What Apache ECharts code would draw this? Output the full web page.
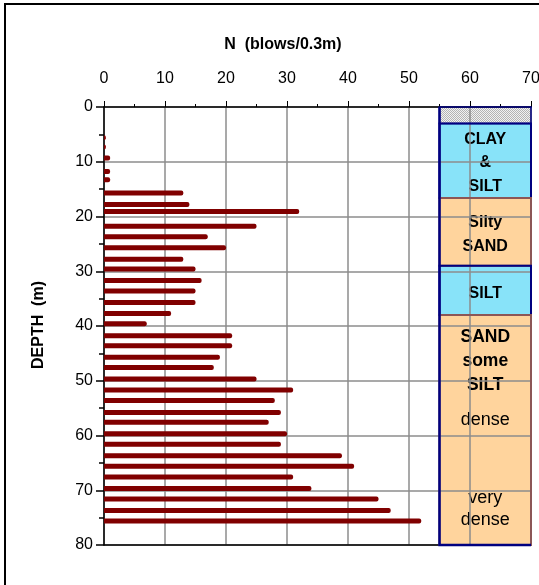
<!DOCTYPE html>
<html>
<head>
<meta charset="utf-8">
<script src="https://cdn.jsdelivr.net/npm/echarts@6/dist/echarts.min.js"></script>
<style>
  html, body { margin: 0; padding: 0; background: #fff; }
  #chart { width: 539px; height: 585px; }
</style>
</head>
<body>
<div id="chart"></div>
<script>
// SPT blow counts against depth
const depths = [5.6, 7.3, 9.3, 11.8, 13.3, 15.7, 17.8, 19.1, 21.8, 23.7, 25.7, 27.8, 29.6, 31.7, 33.6,
  35.7, 37.7, 39.6, 41.8, 43.6, 45.7, 47.6, 49.7, 51.7, 53.6, 55.8, 57.6, 59.7, 61.6, 63.7,
  65.6, 67.6, 69.7, 71.6, 73.7, 75.6];
const blows = [0.3, 0.3, 1, 1, 1, 13, 14, 32, 25, 17, 20, 13, 15, 16, 15,
  15, 11, 7, 21, 21, 19, 18, 25, 31, 28, 29, 27, 30, 29, 39,
  41, 31, 34, 45, 47, 52];

// Soil profile column
const layerTop = [0, 3, 16.6, 29, 38];
const layerBottom = [3, 16.6, 29, 38, 80];
const layerKind = ['fill', 'silt', 'sand', 'silt', 'sand'];
const layerName = ['', 'CLAY\n&\nSILT', 'Silty\nSAND', 'SILT', 'SAND\nsome\nSILT'];
const layerNameDepth = [null, 10.2, 23.3, 34.0, 46.5];
const noteText = ['dense', 'very\ndense'];
const noteDepth = [57.2, 73.4];

const xTicks = [0, 10, 20, 30, 40, 50, 60, 70];
const yTicks = [0, 10, 20, 30, 40, 50, 60, 70, 80];

const columnLeft = 55, columnRight = 70;
const FONT = '"Liberation Sans", Arial, sans-serif';
// the deep sand layer is lettered a little larger than the upper ones
const nameFontSize = [16, 16, 16, 16, 17.5];

// fine cross-hatch for the fill layer
const hatch = document.createElement('canvas');
hatch.width = 2; hatch.height = 2;
(function () {
  const c = hatch.getContext('2d');
  c.fillStyle = '#f2f2f2'; c.fillRect(0, 0, 2, 2);
  c.fillStyle = '#b4b4b4'; c.fillRect(0, 0, 1, 1); c.fillRect(1, 1, 1, 1);
})();

const fills = { fill: { image: hatch, repeat: 'repeat' }, silt: '#88E3F9', sand: '#FFD49D' };
const strokes = { fill: '#000080', silt: '#000080', sand: '#8C5656' };

const chart = echarts.init(document.getElementById('chart'), null, { renderer: 'canvas' });

function layerRect(api) {
  const p0 = api.coord([api.value(0), api.value(1)]);
  const p1 = api.coord([api.value(2), api.value(3)]);
  return { x: p0[0], y: p0[1], width: p1[0] - p0[0], height: p1[1] - p0[1] };
}

const layerData = layerTop.map((t, i) => [columnLeft, t, columnRight, layerBottom[i]]);

chart.setOption({
  animation: false,
  textStyle: { fontFamily: FONT },
  grid: { left: 104, right: 8, top: 107, bottom: 40, outerBoundsMode: 'none', containLabel: false },
  xAxis: [{
    type: 'value', position: 'top', min: xTicks[0], max: xTicks[xTicks.length - 1], interval: 10,
    axisLine: { show: true, onZero: false, lineStyle: { color: '#000', width: 1.5 } },
    axisTick: { show: true, inside: false, length: 6, lineStyle: { color: '#000' } },
    minorTick: { show: true, splitNumber: 2, length: 3, lineStyle: { color: '#000' } },
    axisLabel: { color: '#000', fontSize: 16, margin: 20, fontFamily: FONT },
    splitLine: { show: true, lineStyle: { color: '#8c8c8c', width: 1.5 } }
  }, {
    type: 'value', position: 'bottom', min: 0, max: 70,
    axisLine: { show: true, onZero: false, lineStyle: { color: '#000', width: 1.5 } },
    axisTick: { show: false }, axisLabel: { show: false }, splitLine: { show: false }
  }],
  yAxis: {
    type: 'value', inverse: true, min: yTicks[0], max: yTicks[yTicks.length - 1], interval: 10,
    axisLine: { show: true, onZero: false, lineStyle: { color: '#000', width: 1.5 } },
    axisTick: { show: true, inside: false, length: 8, lineStyle: { color: '#000', width: 1.5 } },
    minorTick: { show: true, splitNumber: 2, length: 5, lineStyle: { color: '#000', width: 1.5 } },
    axisLabel: { color: '#000', fontSize: 16, margin: 11, fontFamily: FONT },
    splitLine: { show: true, lineStyle: { color: '#8c8c8c', width: 1.5 } }
  },
  graphic: [
    { type: 'rect', silent: true, z: 100, shape: { x: 5, y: 4, width: 700, height: 800 },
      style: { fill: null, stroke: '#000', lineWidth: 2 } },
    { type: 'text', z: 100, x: 283, y: 45,
      style: { text: 'N  (blows/0.3m)', font: 'bold 16px ' + FONT, fill: '#000', align: 'center', verticalAlign: 'middle' } },
    { type: 'text', z: 100, x: 39, y: 325, rotation: Math.PI / 2,
      style: { text: 'DEPTH  (m)', font: 'bold 16px ' + FONT, fill: '#000', align: 'center', verticalAlign: 'middle' } }
  ],
  series: [
    // layer fills, beneath the grid lines
    {
      type: 'custom', z: -1, silent: true, clip: false,
      data: layerData,
      renderItem: (params, api) => ({
        type: 'rect', shape: layerRect(api),
        style: { fill: fills[layerKind[params.dataIndex]] }
      })
    },
    // layer names
    {
      type: 'custom', z: -1, silent: true, clip: false,
      data: layerNameDepth.map((d, i) => [(columnLeft + columnRight) / 2, d === null ? 0 : d]),
      renderItem: (params, api) => {
        const name = layerName[params.dataIndex];
        if (!name) return null;
        const p = api.coord([api.value(0), api.value(1)]);
        const fs = nameFontSize[params.dataIndex];
        return { type: 'text', x: p[0], y: p[1],
          style: { text: name, font: 'bold ' + fs + 'px ' + FONT, fill: '#000', align: 'center', verticalAlign: 'middle', lineHeight: fs > 16 ? 24 : 23.5 } };
      }
    },
    // density notes
    {
      type: 'custom', z: -1, silent: true, clip: false,
      data: noteDepth.map(d => [(columnLeft + columnRight) / 2, d]),
      renderItem: (params, api) => {
        const p = api.coord([api.value(0), api.value(1)]);
        return { type: 'text', x: p[0], y: p[1],
          style: { text: noteText[params.dataIndex], font: '18px ' + FONT, fill: '#000', align: 'center', verticalAlign: 'middle', lineHeight: 22 } };
      }
    },
    // layer outlines, above the grid lines
    {
      type: 'custom', z: 5, silent: true, clip: false,
      data: layerData,
      renderItem: (params, api) => {
        const kind = layerKind[params.dataIndex];
        return { type: 'rect', shape: layerRect(api),
          style: { fill: null, stroke: strokes[kind], lineWidth: kind === 'fill' ? 1.5 : 2 } };
      }
    },
    // column frame: left and bottom edges
    {
      type: 'custom', z: 6, silent: true, clip: false,
      data: [[columnLeft, 0, columnRight, 80]],
      renderItem: (params, api) => {
        const r = layerRect(api);
        return { type: 'polyline',
          shape: { points: [[r.x, r.y], [r.x, r.y + r.height], [r.x + r.width, r.y + r.height]] },
          style: { fill: null, stroke: '#000080', lineWidth: 2.5 } };
      }
    },
    // N values
    {
      type: 'custom', z: 4, silent: true,
      data: depths.map((d, i) => [blows[i], d]),
      renderItem: (params, api) => {
        const p0 = api.coord([0, api.value(1)]);
        const p1 = api.coord([api.value(0), api.value(1)]);
        const h = 5;
        return { type: 'rect',
          shape: { x: p0[0], y: p0[1] - h / 2, width: Math.max(p1[0] - p0[0], 1.5), height: h, r: [0, 2, 2, 0] },
          style: { fill: '#800000' } };
      }
    }
  ]
});
</script>
</body>
</html>
